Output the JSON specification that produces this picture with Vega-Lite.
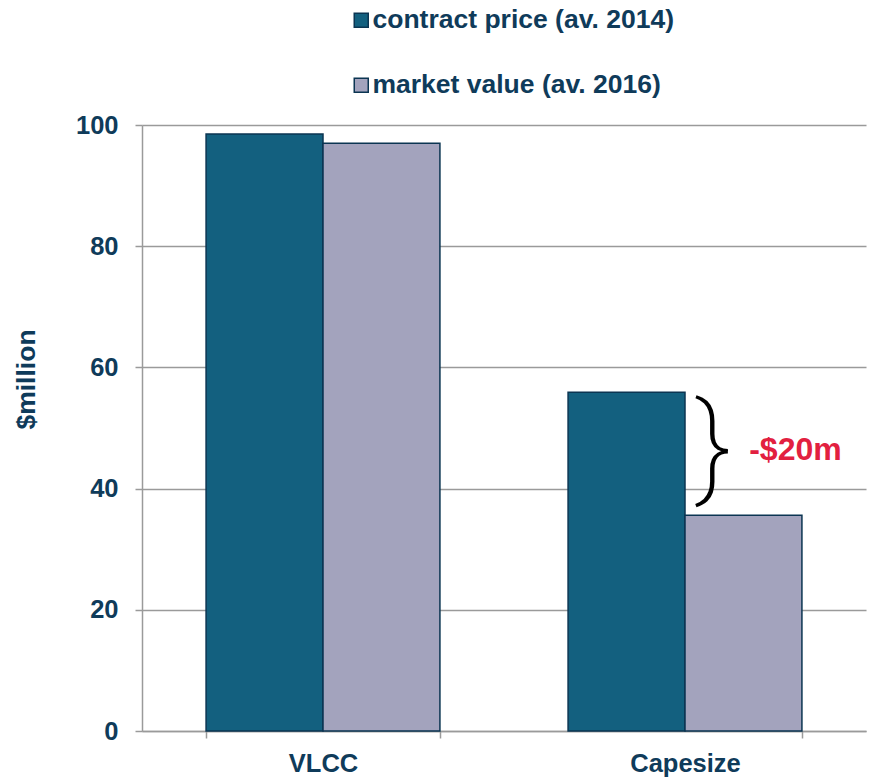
{
  "$schema": "https://vega.github.io/schema/vega-lite/v6.json",
  "width": 724,
  "height": 606,
  "autosize": {"type": "none"},
  "padding": {"left": 142, "top": 125, "right": 4, "bottom": 47},
  "background": "white",
  "config": {
    "view": {"stroke": null},
    "font": "Liberation Sans"
  },
  "datasets": {
    "bars": [
      {"ship": "VLCC", "series": "contract price (av. 2014)", "value": 98.5},
      {"ship": "VLCC", "series": "market value (av. 2016)", "value": 97.0},
      {"ship": "Capesize", "series": "contract price (av. 2014)", "value": 55.9},
      {"ship": "Capesize", "series": "market value (av. 2016)", "value": 35.6}
    ],
    "notes": [
      {"ship": "Capesize", "series": "market value (av. 2016)", "value": 45.8, "brace": "}", "label": "-$20m"}
    ]
  },
  "layer": [
    {
      "data": {"name": "bars"},
      "mark": {"type": "bar", "stroke": "#0b3552", "strokeWidth": 1.5},
      "encoding": {
        "x": {
          "field": "ship", "type": "nominal",
          "scale": {"domain": ["VLCC", "Capesize"], "paddingInner": 0.354, "paddingOuter": 0.177},
          "axis": {
            "title": null, "labelAngle": 0, "labelFont": "Liberation Sans", "labelFontWeight": "bold",
            "labelFontSize": 25.5, "labelColor": "#0f3b5a", "labelPadding": 13,
            "tickBand": "extent", "tickSize": 7, "tickColor": "#9a9a9a", "tickWidth": 1.5,
            "domainColor": "#9a9a9a", "domainWidth": 1.5, "grid": false
          }
        },
        "xOffset": {"field": "series", "type": "nominal", "scale": {"paddingInner": 0, "paddingOuter": 0}},
        "y": {
          "field": "value", "type": "quantitative",
          "scale": {"domain": [0, 100], "nice": false},
          "axis": {
            "values": [0, 20, 40, 60, 80, 100], "title": "$million",
            "titleFont": "Liberation Sans", "titleFontSize": 26.5, "titleFontWeight": "bold", "titleColor": "#0f3b5a",
            "titleAngle": -90, "titleAlign": "center", "titleBaseline": "middle", "titleX": -116, "titleY": 254,
            "labelFont": "Liberation Sans", "labelFontWeight": "bold", "labelFontSize": 25.5, "labelColor": "#0f3b5a",
            "labelPadding": 17, "tickSize": 7, "tickColor": "#9a9a9a", "tickWidth": 1.5,
            "domainColor": "#9a9a9a", "domainWidth": 1.5,
            "grid": true, "gridColor": "#9a9a9a", "gridWidth": 1.5
          }
        },
        "color": {
          "field": "series", "type": "nominal",
          "scale": {"range": ["#13607f", "#a3a3bd"]},
          "legend": {
            "title": null, "orient": "none", "legendX": 206, "legendY": -118, "direction": "vertical",
            "symbolType": "square", "symbolSize": 196, "symbolStrokeColor": "#0b3552", "symbolStrokeWidth": 1.5,
            "labelFont": "Liberation Sans", "labelFontSize": 26.5, "labelFontWeight": "bold", "labelColor": "#0f3b5a",
            "labelOffset": -2, "rowPadding": 38, "labelLimit": 500
          }
        }
      }
    },
    {
      "data": {"name": "notes"},
      "mark": {"type": "text", "font": "Roboto", "fontWeight": 200, "fontSize": 113, "color": "black", "dx": -30, "dy": -4, "baseline": "middle", "align": "center"},
      "encoding": {
        "x": {"field": "ship", "type": "nominal"},
        "xOffset": {"field": "series", "type": "nominal"},
        "y": {"field": "value", "type": "quantitative"},
        "text": {"field": "brace"}
      }
    },
    {
      "data": {"name": "notes"},
      "mark": {"type": "text", "font": "Liberation Sans", "fontWeight": "bold", "fontSize": 32, "color": "#e2203f", "dx": 52, "dy": -3, "baseline": "middle", "align": "center"},
      "encoding": {
        "x": {"field": "ship", "type": "nominal"},
        "xOffset": {"field": "series", "type": "nominal"},
        "y": {"field": "value", "type": "quantitative"},
        "text": {"field": "label"}
      }
    }
  ]
}
